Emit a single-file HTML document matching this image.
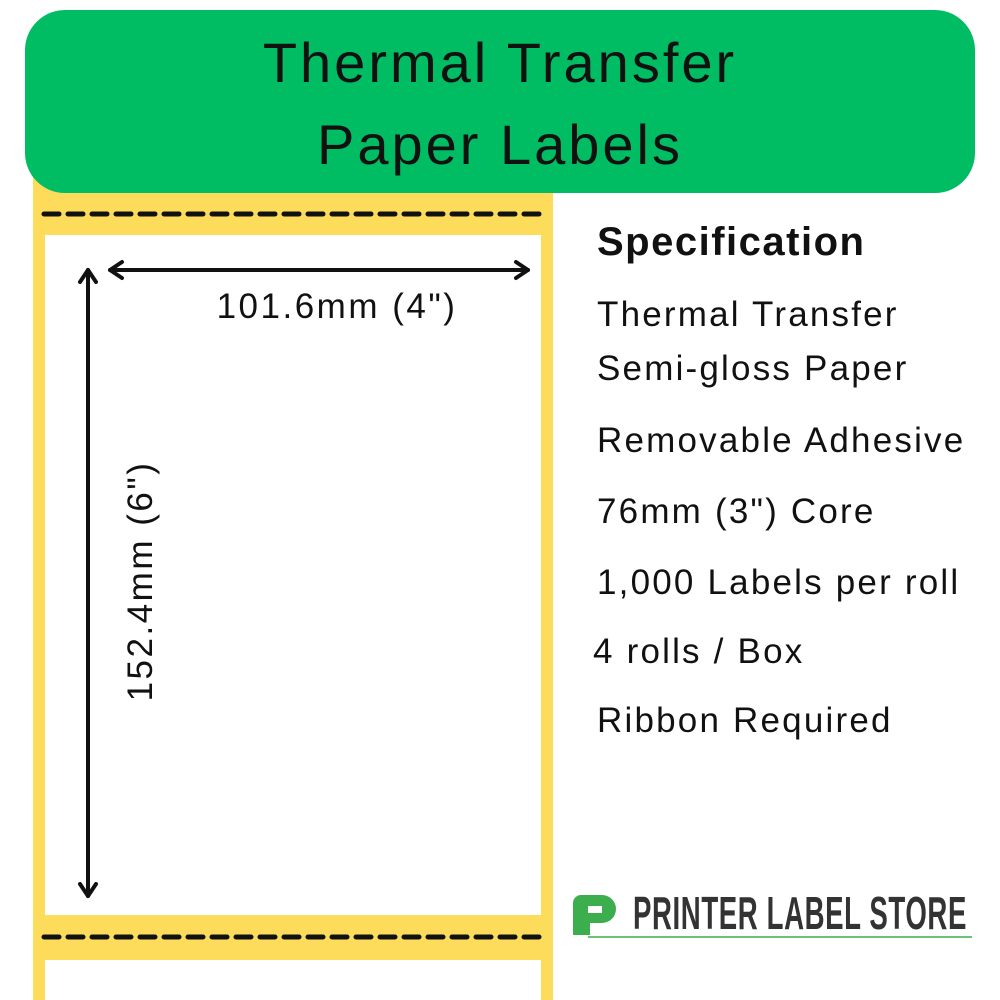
<!DOCTYPE html>
<html><head><style>
body{margin:0;width:1000px;height:1000px;background:#fff;position:relative;overflow:hidden;font-family:"Liberation Sans",sans-serif}
.t{position:absolute;font-size:35px;color:#111;white-space:nowrap;left:597px;letter-spacing:2.2px}
</style></head><body>
<div style="position:absolute;left:33px;top:150px;width:520px;height:850px;background:#fddc5c"></div>
<div style="position:absolute;left:45px;top:235px;width:496px;height:680px;background:#fff"></div>
<div style="position:absolute;left:45px;top:960px;width:496px;height:40px;background:#fff"></div>
<svg style="position:absolute;left:0;top:0" width="1000" height="1000">
<line x1="44" y1="214" x2="544" y2="214" stroke="#111" stroke-width="5" stroke-dasharray="15,9" stroke-linecap="round"/>
<line x1="44" y1="937" x2="544" y2="937" stroke="#111" stroke-width="5" stroke-dasharray="15,9" stroke-linecap="round"/>
<g stroke="#111" stroke-width="4" fill="none" stroke-linecap="round" stroke-linejoin="round">
<line x1="110" y1="270" x2="528" y2="270"/>
<polyline points="122,262 110,270 122,278"/>
<polyline points="516,262 528,270 516,278"/>
<line x1="88" y1="270" x2="88" y2="896"/>
<polyline points="80,282 88,270 96,282"/>
<polyline points="80,884 88,896 96,884"/>
</g>
<text x="337" y="318" font-size="35" letter-spacing="2.5" text-anchor="middle" fill="#111" font-family="Liberation Sans">101.6mm (4")</text>
<text transform="translate(152,581) rotate(-90)" font-size="35" letter-spacing="2.5" text-anchor="middle" fill="#111" font-family="Liberation Sans">152.4mm (6")</text>
<path d="M573,935 V903 a8,8 0 0 1 8,-8 H602 a14,14 0 0 1 0,28 H590 V935 Z" fill="#3cae4e"/>
<rect x="588" y="906" width="14" height="7" fill="#fff"/>
<line x1="588" y1="937" x2="972" y2="937" stroke="#3cae4e" stroke-width="1.5"/>
</svg>
<div style="position:absolute;left:25px;top:10px;width:950px;height:183px;background:#00bd63;border-radius:40px;text-align:center;font-size:56px;line-height:82px;color:#111;padding-top:12px;box-sizing:border-box;letter-spacing:3px">Thermal Transfer<br>Paper Labels</div>
<div class="t" style="top:220px;font-weight:bold;font-size:40px;letter-spacing:1.5px">Specification</div>
<div class="t" style="top:295px">Thermal Transfer</div>
<div class="t" style="top:349px">Semi-gloss Paper</div>
<div class="t" style="top:421px">Removable Adhesive</div>
<div class="t" style="top:492px">76mm (3") Core</div>
<div class="t" style="top:563px">1,000 Labels per roll</div>
<div class="t" style="top:632px;left:593px">4 rolls / Box</div>
<div class="t" style="top:701px">Ribbon Required</div>
<div style="position:absolute;left:633px;top:886px;font-size:46px;font-weight:bold;color:#333;white-space:nowrap;transform:scaleX(0.6);transform-origin:left top;letter-spacing:1px">PRINTER LABEL STORE</div>
</body></html>
